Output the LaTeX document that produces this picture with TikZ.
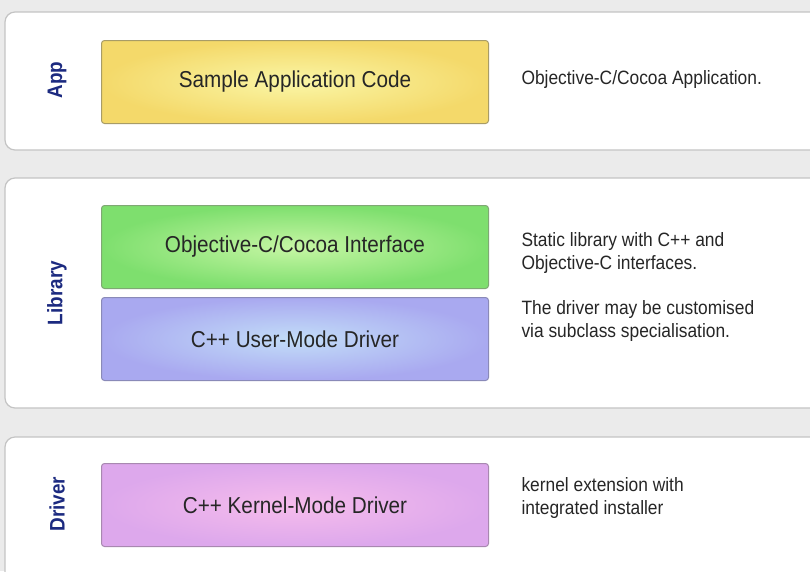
\documentclass[tikz,border=0pt]{standalone}
\usepackage{fontspec}
\setmainfont{Liberation Sans}[FakeStretch=0.9]
\definecolor{pagebg}{HTML}{EBEBEB}
\definecolor{panelline}{HTML}{C4C4C4}
\definecolor{tiername}{HTML}{1C2A80}
\definecolor{yelOut}{HTML}{F4D96A}
\definecolor{yelIn}{HTML}{FAF6A6}
\definecolor{yelLine}{HTML}{A89C66}
\definecolor{grnOut}{HTML}{7EDF6E}
\definecolor{grnIn}{HTML}{C6F6A4}
\definecolor{grnLine}{HTML}{7FA874}
\definecolor{bluOut}{HTML}{A9A9F0}
\definecolor{bluIn}{HTML}{C2DDF8}
\definecolor{bluLine}{HTML}{8A8AB8}
\definecolor{pnkOut}{HTML}{DDA8EC}
\definecolor{pnkIn}{HTML}{F6BCEC}
\definecolor{pnkLine}{HTML}{A888B0}
\tikzset{
  panel/.style={draw=panelline, line width=1.2pt, fill=white, rounded corners=10pt},
  layerbox/.style={draw=#1Line, line width=1pt, rounded corners=3pt,
    inner color=#1In, outer color=#1Out,
    minimum width=387pt, minimum height=83pt, anchor=north west,
    font=\fontsize{23}{26}\selectfont, text=black!85},
  tier/.style={rotate=90, font=\fontsize{21}{24}\selectfont\bfseries, text=tiername},
  note/.style={anchor=west, align=left, font=\fontsize{19.3}{23}\selectfont, text=black!85},
}
\begin{document}
\begin{tikzpicture}[x=1pt, y=-1pt]
  \useasboundingbox (0,0) rectangle (810,571);
  \fill[pagebg] (0,0) rectangle (810,571);

  % three tier panels, running off the right (and bottom) edge
  \draw[panel] (5,12) rectangle (830,150);
  \draw[panel] (5,178) rectangle (830,408);
  \draw[panel] (5,437) rectangle (830,600);

  % tier names
  \node[tier] (tapp) at (57,80) {App};
  \node[tier] (tlib) at (57,293) {Library};
  \node[tier] (tdrv) at (57,504) {Driver};

  % layer boxes
  \node[layerbox=yel] (app) at (101,40) {Sample Application Code};
  \node[layerbox=grn] (objc) at (101,205) {Objective-C/Cocoa Interface};
  \node[layerbox=blu] (user) at (101,297) {C++ User-Mode Driver};
  \node[layerbox=pnk] (kern) at (101,463) {C++ Kernel-Mode Driver};

  % descriptions
  \node[note] (napp) at (518,80) {Objective-C/Cocoa Application.};
  \node[note] (nlib1) at (518,253) {Static library with C++ and\\Objective-C interfaces.};
  \node[note] (nlib2) at (518,321) {The driver may be customised\\via subclass specialisation.};
  \node[note] (ndrv) at (518,498) {kernel extension with\\integrated installer};
\end{tikzpicture}
\end{document}
